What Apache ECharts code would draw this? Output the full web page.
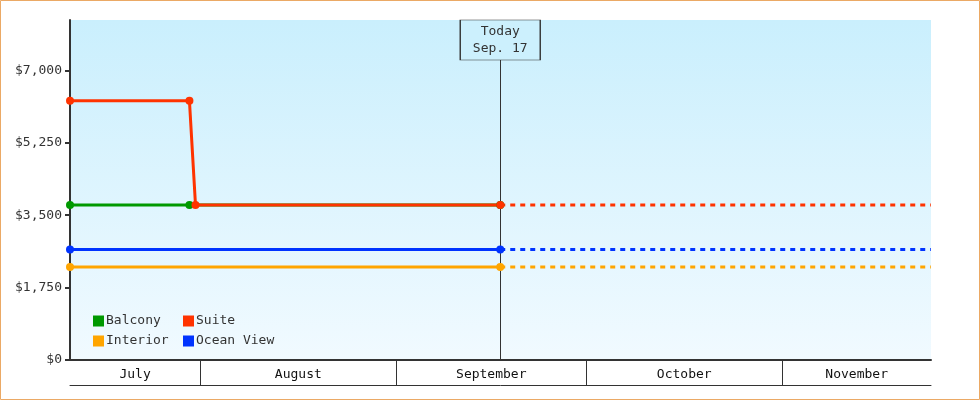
<!DOCTYPE html>
<html>
<head>
<meta charset="utf-8">
<title>Cabin prices</title>
<script src="https://cdn.jsdelivr.net/npm/echarts@6/dist/echarts.min.js"></script>
<style>
	html, body { margin: 0; padding: 0; background: #fff; }
	#chart { width: 980px; height: 400px; }
</style>
</head>
<body>
<div id="chart"></div>
<script>
// price history per cabin type
var balconyDates = ['2013-07-11 10:00', '2013-07-30 07:00', '2013-09-17 10:00'];
var balconyPrices = [3750, 3750, 3750];
var suiteDates = ['2013-07-11 10:00', '2013-07-30 07:00', '2013-07-31 06:00', '2013-09-17 10:00'];
var suitePrices = [6270, 6270, 3750, 3750];
var interiorDates = ['2013-07-11 10:00', '2013-09-17 10:00'];
var interiorPrices = [2250, 2250];
var oceanDates = ['2013-07-11 10:00', '2013-09-17 10:00'];
var oceanPrices = [2670, 2670];

// forecast (dotted) part, from today to the end of the axis
// (balcony's forecast sits exactly under the suite one, so it is not drawn)
var forecastDates = ['2013-09-17 10:00', '2013-11-24 12:00'];
var suiteForecast = [3750, 3750];
var interiorForecast = [2250, 2250];
var oceanForecast = [2670, 2670];

// axes
var startDate = '2013-07-11 10:00';
var endDate = '2013-11-24 12:00';
var todayDate = '2013-09-17 10:00';
var todayLabel = 'Today\nSep. 17';
var priceTicks = [0, 1750, 3500, 5250, 7000];
var priceMax = 8220;
var monthNames = ['July', 'August', 'September', 'October', 'November'];
var monthStarts = ['2013-07-11 10:00', '2013-08-01 00:00', '2013-09-01 00:00', '2013-10-01 00:00', '2013-11-01 00:00'];

var FONT = 'DejaVu Sans Mono';

function toTime(s) {
	return new Date(s.replace(' ', 'T') + ':00').getTime();
}

function pairs(dates, values) {
	var out = [];
	for(var i = 0; i < dates.length; i++) {
		out.push([toTime(dates[i]), values[i]]);
	}
	return out;
}

function money(v) {
	return '$' + String(v).replace(/\B(?=(\d{3})+(?!\d))/g, ',');
}

//月份条
var monthAreas = [], monthLines = [];
for(var i = 0; i < monthNames.length; i++) {
	var to = i < monthNames.length - 1 ? monthStarts[i + 1] : endDate;
	monthAreas.push([{ name: monthNames[i], xAxis: toTime(monthStarts[i]) }, { xAxis: toTime(to) }]);
	if(i > 0) monthLines.push({ xAxis: toTime(monthStarts[i]) });
}

function solid(name, color, data) {
	return {
		name: name,
		type: 'line',
		data: data,
		color: color,
		symbol: 'circle',
		symbolSize: 8,
		lineStyle: { width: 3, color: color },
		itemStyle: { color: color },
		z: 3
	};
}

function dotted(name, color, data) {
	return {
		name: name,
		type: 'line',
		data: data,
		color: color,
		showSymbol: false,
		symbol: 'none',
		lineStyle: { width: 3, color: color, type: [5, 5] },
		z: 2
	};
}

var series = [
	solid('Balcony', '#009900', pairs(balconyDates, balconyPrices)),
	solid('Suite', '#ff3300', pairs(suiteDates, suitePrices)),
	dotted('Suite', '#ff3300', pairs(forecastDates, suiteForecast)),
	solid('Interior', '#ffa500', pairs(interiorDates, interiorPrices)),
	dotted('Interior', '#ffa500', pairs(forecastDates, interiorForecast)),
	solid('Ocean View', '#0033ff', pairs(oceanDates, oceanPrices)),
	dotted('Ocean View', '#0033ff', pairs(forecastDates, oceanForecast))
];

//今天标记
series.push({
	type: 'line',
	data: [],
	silent: true,
	markLine: {
		silent: true,
		symbol: ['none', 'none'],
		label: { show: false },
		lineStyle: { color: '#333', width: 1, type: 'solid' },
		data: [{ xAxis: toTime(todayDate) }],
		z: 1
	},
	markPoint: {
		silent: true,
		symbol: 'rect',
		symbolSize: [80, 40],
		symbolOffset: [0, 20],
		itemStyle: { color: '#ccf0fd', borderColor: '#333', borderWidth: 1 },
		label: {
			show: true,
			position: 'inside',
			formatter: todayLabel,
			color: '#333',
			fontFamily: FONT,
			fontSize: 13,
			lineHeight: 17
		},
		data: [{ coord: [toTime(todayDate), priceMax] }],
		z: 10
	}
});

series.push({
	type: 'line',
	xAxisIndex: 1,
	yAxisIndex: 1,
	data: [[toTime(startDate), 0.5]],
	symbol: 'none',
	lineStyle: { opacity: 0 },
	silent: true,
	markArea: {
		silent: true,
		itemStyle: { color: 'rgba(0,0,0,0)' },
		label: {
			show: true,
			position: 'inside',
			color: '#111',
			fontFamily: FONT,
			fontSize: 13,
			offset: [0, 2]
		},
		data: monthAreas
	},
	markLine: {
		silent: true,
		symbol: ['none', 'none'],
		label: { show: false },
		lineStyle: { color: '#333', width: 1, type: 'solid' },
		data: monthLines
	}
});

var legendBase = {
	orient: 'vertical',
	top: 309,
	icon: 'rect',
	itemWidth: 11,
	itemHeight: 11,
	itemGap: 6,
	selectedMode: false,
	textStyle: { fontFamily: FONT, fontSize: 13, color: '#333', lineHeight: 14, padding: [0, 0, 0, -3] }
};

var chart = echarts.init(document.getElementById('chart'));
chart.setOption({
	animation: false,
	textStyle: { fontFamily: FONT },
	graphic: [{
		type: 'rect',
		shape: { x: 0.5, y: 0.5, width: 979, height: 399 },
		style: { fill: 'none', stroke: '#eba965', lineWidth: 1 },
		silent: true
	}],
	legend: [
		Object.assign({ left: 88, data: ['Balcony', 'Interior'] }, legendBase),
		Object.assign({ left: 178, data: ['Suite', 'Ocean View'] }, legendBase)
	],
	grid: [{
		left: 70,
		right: 49,
		top: 20,
		height: 340,
		show: true,
		borderWidth: 0,
		backgroundColor: {
			type: 'linear', x: 0, y: 0, x2: 0, y2: 1,
			colorStops: [{ offset: 0, color: '#caeffd' }, { offset: 1, color: '#f1faff' }]
		}
	}, {
		left: 70,
		right: 49,
		top: 360,
		height: 25
	}],
	xAxis: [{
		type: 'time',
		min: toTime(startDate),
		max: toTime(endDate),
		axisLine: { show: true, lineStyle: { color: '#333', width: 2 } },
		axisTick: { show: false },
		axisLabel: { show: false },
		splitLine: { show: false }
	}, {
		type: 'time',
		gridIndex: 1,
		min: toTime(startDate),
		max: toTime(endDate),
		axisLine: { show: true, lineStyle: { color: '#333', width: 1 } },
		axisTick: { show: false },
		axisLabel: { show: false },
		splitLine: { show: false }
	}],
	yAxis: [{
		type: 'value',
		min: 0,
		max: priceMax,
		axisLine: { show: true, lineStyle: { color: '#333', width: 2 } },
		axisTick: { show: true, length: 5, lineStyle: { color: '#333', width: 2 }, customValues: priceTicks },
		axisLabel: {
			color: '#333',
			fontFamily: FONT,
			fontSize: 13,
			margin: 8,
			customValues: priceTicks,
			formatter: money
		},
		splitLine: { show: false }
	}, {
		type: 'value',
		gridIndex: 1,
		min: 0,
		max: 1,
		show: false
	}],
	series: series
});
</script>
</body>
</html>
